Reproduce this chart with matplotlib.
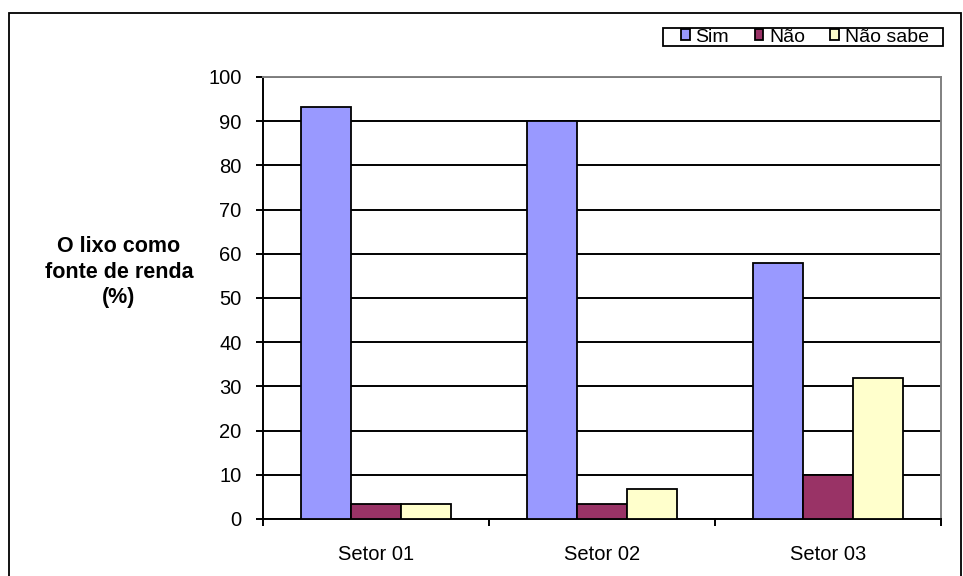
import numpy as np
import matplotlib
matplotlib.use("Agg")
import matplotlib.pyplot as plt
from matplotlib.patches import Rectangle

setores = ["Setor 01", "Setor 02", "Setor 03"]
series = ["Sim", "Não", "Não sabe"]
sim = [93.3, 90.0, 58.0]
nao = [3.3, 3.3, 10.0]
nao_sabe = [3.3, 6.7, 32.0]
cores = ["#9999FF", "#993366", "#FFFFCC"]
yticks = list(range(0, 101, 10))

plt.rcParams["font.family"] = ["Liberation Sans", "DejaVu Sans"]

fig = plt.figure(figsize=(9.63, 5.76), dpi=100)
ax = fig.add_axes([263/963, 1 - 519/576, (941 - 263)/963, (519 - 77)/576])

# moldura externa
fig.patches.append(Rectangle((9/963, -0.01), (961 - 9)/963, 1 - 13/576 + 0.01,
                             transform=fig.transFigure, fill=False,
                             edgecolor="black", linewidth=1.3))

x = np.arange(len(setores))
w = 1 / 4.5  # gap 150%
for i, (vals, nome) in enumerate(zip([sim, nao, nao_sabe], series)):
    ax.bar(x + (i - 1) * w, vals, w, color=cores[i], edgecolor="black",
           linewidth=1.3, label=nome, zorder=3)

ax.set_xlim(-0.5, len(setores) - 0.5)
ax.set_ylim(0, 100)
ax.set_yticks(yticks)
ax.set_yticklabels([str(v) for v in yticks], fontsize=14.5)
ax.yaxis.grid(True, color="black", linewidth=1.4, zorder=0)
ax.set_axisbelow(True)

ax.set_xticks(x)
ax.set_xticklabels(setores, fontsize=14.5)
ax.tick_params(axis="x", which="major", length=0, pad=19)
ax.set_xticks(np.arange(-0.5, len(setores), 1), minor=True)
ax.tick_params(axis="x", which="minor", length=5, width=1.4, direction="out")
ax.tick_params(axis="y", length=5, width=1.4, direction="out", pad=10.5)

for s in ["left", "bottom"]:
    ax.spines[s].set_color("black")
    ax.spines[s].set_linewidth(1.4)
for s in ["top", "right"]:
    ax.spines[s].set_color("#808080")
    ax.spines[s].set_linewidth(1.4)

fig.text(119/963, 1 - 272/576, "O lixo como\nfonte de renda\n(%)", ha="center",
         va="center", fontsize=15.5, fontweight="bold", linespacing=1.25)

# caixa da legenda
fig.patches.append(Rectangle((663/963, 1 - 46/576), (943 - 663)/963, 18/576,
                             transform=fig.transFigure, fill=True, facecolor="white",
                             edgecolor="black", linewidth=1.3, zorder=5))
handles, labels = ax.get_legend_handles_labels()
leg = fig.legend(handles, labels, loc="center", bbox_to_anchor=(805/963, 1 - 37/576),
                 ncol=3, fontsize=14, frameon=False, handlelength=0.45,
                 handleheight=0.45, handletextpad=0.3, columnspacing=1.3,
                 borderpad=0, borderaxespad=0)
leg.set_zorder(6)

fig.savefig("out.png", dpi=100)
